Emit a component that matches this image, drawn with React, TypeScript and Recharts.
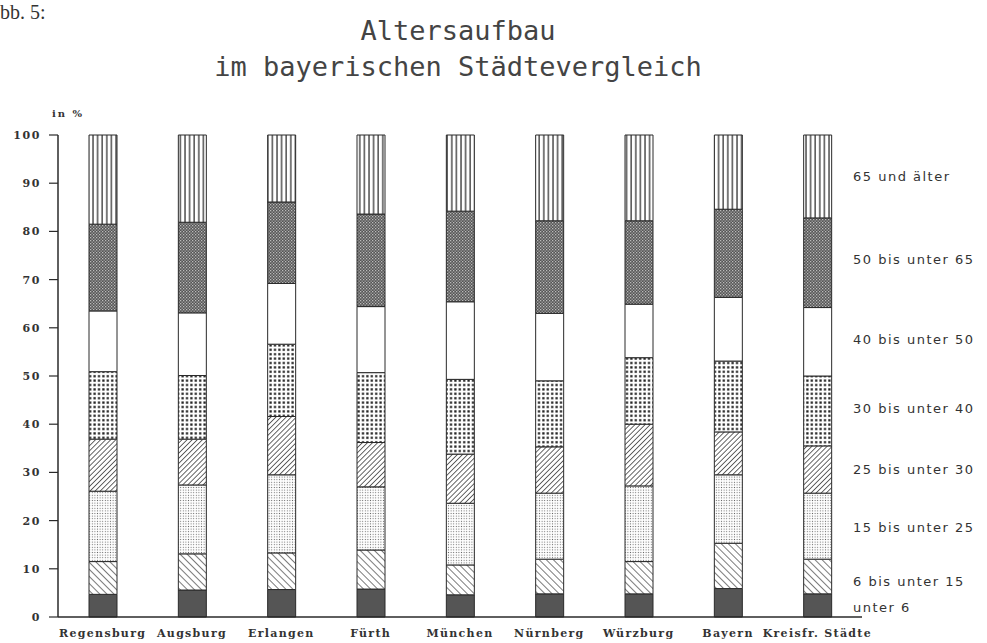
// Altersaufbau im bayerischen Städtevergleich — stacked percentage columns
// with monochrome fill patterns, rebuilt with Recharts.

import { Bar, BarChart, XAxis, YAxis } from "recharts";

const W = 987;
const H = 643;

const cities = [
  "Regensburg",
  "Augsburg",
  "Erlangen",
  "Fürth",
  "München",
  "Nürnberg",
  "Würzburg",
  "Bayern",
  "Kreisfr. Städte",
];

// shares in % per age group, one value per city (same order as above)
const under6 = [4.7, 5.6, 5.7, 5.8, 4.6, 4.8, 4.8, 5.9, 4.8];
const from6to15 = [6.8, 7.5, 7.6, 8.1, 6.2, 7.2, 6.7, 9.4, 7.2];
const from15to25 = [14.6, 14.3, 16.2, 13.1, 12.8, 13.7, 15.7, 14.2, 13.7];
const from25to30 = [10.8, 9.5, 12.1, 9.2, 10.2, 9.6, 12.8, 8.9, 9.8];
const from30to40 = [14.0, 13.2, 15.0, 14.5, 15.5, 13.7, 13.8, 14.7, 14.5];
const from40to50 = [12.6, 13.0, 12.6, 13.7, 16.1, 14.0, 11.1, 13.2, 14.2];
const from50to65 = [18.0, 18.8, 16.9, 19.2, 18.8, 19.2, 17.3, 18.3, 18.6];
const over65 = [18.5, 18.1, 13.9, 16.4, 15.8, 17.8, 17.8, 15.4, 17.2];

const yTicks = [0, 10, 20, 30, 40, 50, 60, 70, 80, 90, 100];

const groups = [
  { key: "u6", label: "unter 6", values: under6, fill: "#555" },
  { key: "a6", label: "6 bis unter 15", values: from6to15, fill: "url(#pBack)" },
  { key: "a15", label: "15 bis unter 25", values: from15to25, fill: "url(#pStipple)" },
  { key: "a25", label: "25 bis unter 30", values: from25to30, fill: "url(#pFwd)" },
  { key: "a30", label: "30 bis unter 40", values: from30to40, fill: "url(#pGrid)" },
  { key: "a40", label: "40 bis unter 50", values: from40to50, fill: "#fff" },
  { key: "a50", label: "50 bis unter 65", values: from50to65, fill: "url(#pCheck)" },
  { key: "a65", label: "65 und älter", values: over65, fill: "url(#pVert)" },
];

const data = cities.map((city, i) => {
  const row: Record<string, string | number> = { city };
  groups.forEach((g) => (row[g.key] = g.values[i]));
  return row;
});

// legend text sits beside the last column, roughly level with its segment
const legendY = [607, 581, 527, 469, 408, 339, 259, 176];

const INK = "#2a2a2a";
const SLAB = "'DejaVu Serif', serif";

export default function App() {
  return (
    <div style={{ position: "absolute", left: 0, top: 0, width: W, height: H, background: "#fff" }}>
      <BarChart
        width={W}
        height={H}
        data={data}
        margin={{ top: 135, right: 125, bottom: 0, left: 0 }}
        barSize={28}
      >
        <defs>
          <pattern id="pBack" width="5" height="5" patternUnits="userSpaceOnUse" patternTransform="rotate(-45)">
            <rect width="5" height="5" fill="#fff" />
            <line x1="0" y1="0" x2="0" y2="5" stroke="#333" strokeWidth="1.3" />
          </pattern>
          <pattern id="pStipple" width="2.6" height="2.6" patternUnits="userSpaceOnUse">
            <rect width="2.6" height="2.6" fill="#fff" />
            <rect x="0.8" y="0.8" width="1" height="1" fill="#666" />
          </pattern>
          <pattern id="pFwd" width="3.6" height="3.6" patternUnits="userSpaceOnUse" patternTransform="rotate(45)">
            <rect width="3.6" height="3.6" fill="#fff" />
            <line x1="0" y1="0" x2="0" y2="3.6" stroke="#333" strokeWidth="1.5" />
          </pattern>
          <pattern id="pGrid" width="4.4" height="4.4" patternUnits="userSpaceOnUse">
            <rect width="4.4" height="4.4" fill="#fff" />
            <rect x="1.1" y="1.1" width="2.2" height="2.2" fill="#1a1a1a" />
          </pattern>
          <pattern id="pCheck" width="3" height="3" patternUnits="userSpaceOnUse">
            <rect width="3" height="3" fill="#555" />
            <rect x="0" y="0" width="1.3" height="1.3" fill="#bbb" />
            <rect x="1.5" y="1.5" width="1.3" height="1.3" fill="#aaa" />
          </pattern>
          <pattern id="pVert" width="4.6" height="4.6" patternUnits="userSpaceOnUse">
            <rect width="4.6" height="4.6" fill="#fff" />
            <line x1="1" y1="0" x2="1" y2="4.6" stroke="#333" strokeWidth="1.3" />
          </pattern>
        </defs>
        <XAxis
          dataKey="city"
          height={26}
          interval={0}
          tickLine={false}
          tickMargin={6}
          axisLine={{ stroke: INK, strokeWidth: 1.5 }}
          tick={{ fontFamily: SLAB, fontSize: 11, fontWeight: 700, fill: "#333", letterSpacing: 1.3 }}
        />
        <YAxis
          width={58}
          domain={[0, 100]}
          ticks={yTicks}
          interval={0}
          tickSize={9}
          tickMargin={8}
          axisLine={{ stroke: INK, strokeWidth: 1.5 }}
          tickLine={{ stroke: INK, strokeWidth: 1.2 }}
          tick={{ fontFamily: SLAB, fontSize: 11, fontWeight: 700, fill: "#333", letterSpacing: 1.6 }}
        />
        {groups.map((g) => (
          <Bar
            key={g.key}
            dataKey={g.key}
            stackId="age"
            fill={g.fill}
            stroke={INK}
            strokeWidth={1}
            isAnimationActive={false}
          />
        ))}
      </BarChart>

      <svg
        width={W}
        height={H}
        style={{ position: "absolute", left: 0, top: 0, pointerEvents: "none" }}
      >
        <text x={0} y={19} fontFamily="'Liberation Serif', serif" fontSize={20} fill="#333">
          bb. 5:
        </text>
        <g fontFamily="'DejaVu Sans Mono', monospace" fontSize={27} fill="#444" textAnchor="middle">
          <text x={458} y={40}>Altersaufbau</text>
          <text x={458} y={76}>im bayerischen Städtevergleich</text>
        </g>
        <text x={52} y={117} fontFamily={SLAB} fontSize={10} fontWeight={700} fill="#333" letterSpacing={2}>
          in %
        </text>
        <g fontFamily="'DejaVu Sans', sans-serif" fontSize={13} fill="#333" letterSpacing={1.5}>
          {groups.map((g, i) => (
            <text key={g.key} x={853} y={legendY[i]} dominantBaseline="central">
              {g.label}
            </text>
          ))}
        </g>
      </svg>
    </div>
  );
}
